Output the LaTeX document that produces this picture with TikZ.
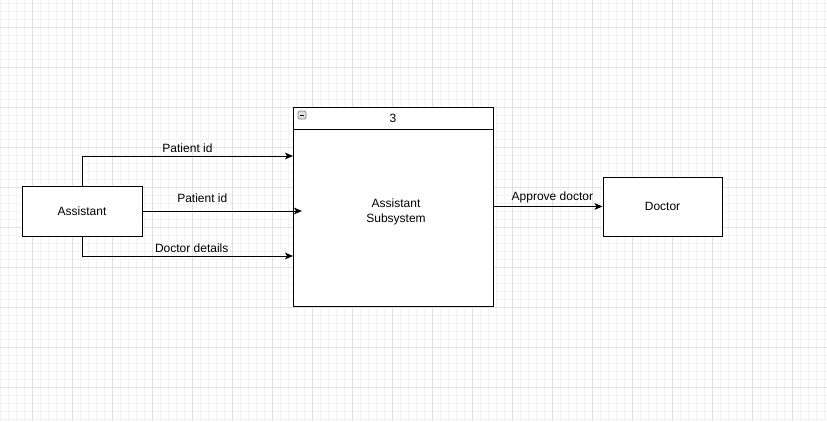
\documentclass[tikz,border=0pt]{standalone}
\usepackage{fontspec}
\setmainfont{Liberation Sans}
\usepackage{tikz}
\usetikzlibrary{arrows, arrows.meta, positioning, calc}

\definecolor{gridmajor}{HTML}{E0E0E0}
\definecolor{gridminor}{HTML}{F3F3F3}

\begin{document}
\begin{tikzpicture}[x=0.75pt,y=-0.75pt,>={Stealth[length=6pt,width=5pt,inset=1.5pt]},line width=0.75pt,
			font=\fontsize{9}{11}\selectfont,
			box node/.style={rectangle,draw,line width=0.75pt,inner sep=0pt},
			flow/.style={->,line width=0.75pt},
			flow label/.style={above,inner sep=2pt}]
			
			\useasboundingbox (0,0) rectangle (827,421);
			% grid
			\foreach \x in {0,8,...,824} \draw[gridminor,line width=0.4pt] (\x,0) -- (\x,421);
			\foreach \y in {3,11,...,419} \draw[gridminor,line width=0.4pt] (0,\y) -- (827,\y);
			\foreach \x in {32,72,...,824} \draw[gridmajor,line width=0.5pt] (\x,0) -- (\x,421);
			\foreach \y in {27,67,...,419} \draw[gridmajor,line width=0.5pt] (0,\y) -- (827,\y);
			
			\node[box node,fill=white,minimum width=90pt,minimum height=37.5pt] (asst) at (82,211) {Assistant};
			\node[box node,fill=white,minimum width=150pt,minimum height=149.25pt] (sub) at (393,206.5) {};
			\node[box node,fill=white,minimum width=89.25pt,minimum height=44.25pt] (doc) at (662.5,206.5) {Doctor};
			
			% header of the subsystem
			\coordinate (hl) at (293,129);
			\coordinate (hr) at (493,129);
			\draw (hl) -- (hr);
			\node (num) at (393,118) {3};
			\node (subtxt) at (396,212) [align=center] {Assistant\\Subsystem};
			\node[draw=gray,fill=gray!25,rounded corners=1pt,minimum size=6pt,inner sep=0pt,line width=0.5pt] (minus) at (302,115) {};
			\draw[line width=0.5pt] ($(minus.center)+(-2,0)$) -- ($(minus.center)+(2,0)$);
			
			\coordinate (in1) at (293,156);
			\coordinate (in2) at (302,211);
			\coordinate (in3) at (293,256);
			
			\draw[flow] (asst.north) |- node[flow label,pos=0.75] {Patient id} (in1);
			\draw[flow] (asst.east) -- node[flow label,pos=0.375,yshift=4pt] {Patient id} (in2);
			\draw[flow] (asst.south) |- node[flow label,pos=0.76] {Doctor details} (in3);
			\draw[flow] (sub) -- node[flow label,pos=0.54] {Approve doctor} (doc);
		\end{tikzpicture}
\end{document}
